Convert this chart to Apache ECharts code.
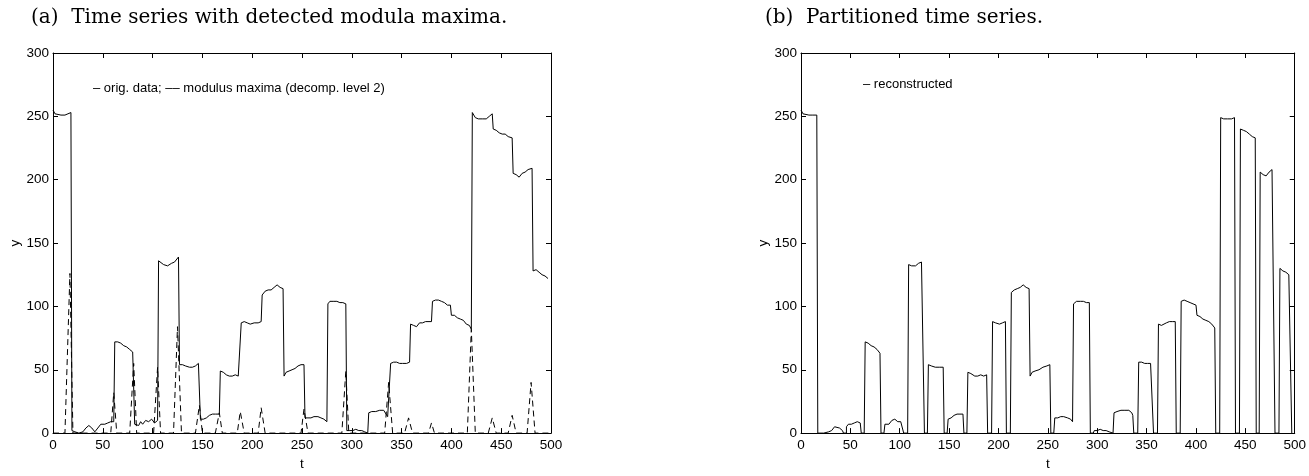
<!DOCTYPE html>
<html>
<head>
<meta charset="utf-8">
<script src="https://cdn.jsdelivr.net/npm/echarts@6/dist/echarts.min.js"></script>
<style>
html,body{margin:0;padding:0;background:#fff;}
#chart{width:1309px;height:476px;}
</style>
</head>
<body>
<div id="chart"></div>
<script>
// ---- data ----
const titleA = "(a)  Time series with detected modula maxima.";
const titleB = "(b)  Partitioned time series.";
const legendA = "\u2013 orig. data; \u2013\u2013 modulus maxima (decomp. level 2)";
const legendB = "\u2013 reconstructed";
const xTicks = [0, 50, 100, 150, 200, 250, 300, 350, 400, 450, 500];
const yTicks = [0, 50, 100, 150, 200, 250, 300];

// original time series [t, y]
const origData = [
[0,255],[2,252],[4,251],[8,251],[12,251],[15,252],[18,253],[19,2],[22,1],[26,0],[30,1],[33,4],[36,6],[39,4],[42,1],[45,4],[48,7],[52,7],[55,8],[58,9],[60,10],[61,9],
[62,72],[65,72],[68,71],[71,69],[74,68],[77,66],[80,64],[81,63],
[82,7],[84,8],[86,6],[88,9],[90,7],[93,10],[96,9],[99,11],[102,8],[104,9],[105,10],
[106,136],[108,135],[111,133],[115,132],[119,134],[122,135],[124,135],[126,139],
[127,54],[130,54],[133,53],[137,52],[140,52],[143,53],[146,55],[147,55],
[148,11],[151,11],[154,12],[157,14],[160,15],[163,15],[167,15],
[168,49],[171,48],[174,46],[177,45],[180,45],[183,46],[186,45],[188,46],
[189,87],[192,88],[195,87],[198,86],[202,87],[206,87],[209,88],
[210,109],[213,112],[216,113],[219,113],[222,115],[225,117],[228,115],[230,115],[231,114],
[232,45],[234,48],[237,49],[240,50],[243,51],[246,53],[249,54],[252,54],
[253,12],[256,12],[259,12],[262,13],[266,13],[269,12],[272,11],[275,9],
[276,102],[278,104],[282,104],[285,104],[288,103],[291,103],[294,102],
[295,2],[298,2],[301,2],[304,3],[307,2],[310,2],[313,1],[316,0],
[317,16],[320,17],[324,17],[328,18],[332,18],[334,17],[336,13],[338,12],
[339,55],[342,56],[345,56],[348,55],[351,55],[355,55],[358,56],
[359,86],[362,85],[365,84],[368,87],[371,87],[374,88],[380,88],
[381,104],[384,105],[387,105],[390,104],[393,103],[396,101],[399,101],
[400,93],[403,93],[406,91],[409,90],[412,89],[415,86],[418,85],[420,82],
[421,253],[424,249],[427,248],[431,248],[435,248],[438,250],[441,252],
[442,240],[445,239],[448,237],[451,236],[454,236],[457,234],[461,233],
[462,205],[465,204],[468,202],[471,205],[474,206],[477,208],[481,209],
[482,128],[485,129],[488,127],[491,125],[494,124],[497,122]
];

// modulus maxima (decomp. level 2) [t, y]
const maximaData = [
[0,0],[12,0],[17,126],[20,0],
[58,0],[61,32],[64,0],
[77,0],[81,55],[84,0],
[101,0],[105,52],[108,0],
[121,0],[125,84],[129,0],
[143,0],[147,22],[150,0],
[163,0],[167,16],[170,0],
[185,0],[188,17],[192,0],
[206,0],[209,20],[213,0],
[249,0],[252,19],[256,0],
[290,0],[294,49],[297,0],
[333,0],[337,40],[341,0],
[353,0],[357,12],[361,0],
[377,0],[380,8],[383,0],
[416,0],[420,82],[424,0],
[437,0],[441,12],[445,0],
[457,0],[461,14],[465,0],
[476,0],[480,40],[484,0],[500,0]
];

// reconstructed (partitioned) series [t, y]
const reconData = [
[0,255],[2,252],[4,251],[8,251],[12,251],[16,251],[17,0],[23,0],
[24,1],[28,1],[31,2],[34,5],[36,6],[39,4],[42,2],[43,0],[46,0],
[46,5],[48,7],[51,7],[54,8],[57,9],[59,10],[60,8],[61,0],[64,0],
[65,72],[68,71],[71,69],[74,68],[77,66],[80,63],[81,0],[84,0],
[85,7],[87,8],[89,7],[92,10],[95,11],[98,9],[101,9],[103,10],[104,0],[108,0],
[109,133],[112,132],[116,132],[119,134],[122,135],[124,135],[125,0],[128,0],
[129,54],[132,53],[136,52],[140,52],[144,52],[145,0],[148,0],
[149,11],[152,12],[155,14],[158,15],[161,15],[164,15],[165,0],[168,0],
[169,48],[172,47],[176,45],[179,45],[182,46],[185,45],[188,46],[189,0],[193,0],
[194,88],[197,87],[201,86],[204,87],[207,88],[208,0],[212,0],
[213,111],[216,113],[219,114],[222,115],[225,117],[228,115],[231,114],
[232,45],[234,48],[237,49],[241,50],[245,52],[249,53],[252,54],[253,0],[256,0],
[257,12],[260,12],[263,13],[266,13],[270,12],[273,11],[275,9],
[276,102],[279,104],[283,104],[286,104],[289,103],[292,103],[293,0],[296,0],
[297,2],[300,2],[303,3],[306,2],[309,2],[312,1],[314,0],[316,0],
[317,16],[320,17],[324,18],[328,18],[332,18],[335,16],[336,14],[337,0],[341,0],
[342,56],[345,56],[348,55],[351,55],[354,55],[356,56],[357,0],[361,0],
[362,86],[365,85],[367,84],[370,87],[373,88],[376,88],[379,88],[380,0],[384,0],
[385,104],[388,105],[391,104],[394,103],[397,102],[400,101],
[401,93],[404,92],[407,90],[410,89],[413,88],[416,86],[419,83],[420,0],[424,0],
[425,249],[428,248],[432,248],[436,248],[439,249],[440,0],[444,0],
[445,240],[448,239],[451,238],[454,236],[457,234],[460,233],[461,0],[464,0],
[465,206],[468,204],[471,203],[474,206],[477,208],[479,209],[480,0],[484,0],
[485,130],[488,128],[491,127],[494,125],[496,124],[497,0]
];

// ---- chart ----
const chart = echarts.init(document.getElementById('chart'), null, {renderer: 'canvas'});
const black = '#000';
const tickFont = {color: black, fontSize: 13.5, fontFamily: 'Liberation Sans, Arial, sans-serif'};

function xAxes(gridIndex) {
  return [
    {
      type: 'value', gridIndex, position: 'bottom', min: 0, max: 500, interval: 50,
      axisLine: {show: true, onZero: false, lineStyle: {color: black, width: 1}},
      axisTick: {show: true, inside: true, length: 5, lineStyle: {color: black}},
      axisLabel: Object.assign({margin: 5, formatter: v => xTicks.includes(v) ? String(v) : ''}, tickFont),
      splitLine: {show: false},
      name: 't', nameLocation: 'middle', nameGap: 21,
      nameTextStyle: tickFont
    },
    {
      type: 'value', gridIndex, position: 'top', min: 0, max: 500, interval: 50,
      axisLine: {show: true, onZero: false, lineStyle: {color: black, width: 1}},
      axisTick: {show: true, inside: true, length: 5, lineStyle: {color: black}},
      axisLabel: {show: false}, splitLine: {show: false}
    }
  ];
}
function yAxes(gridIndex) {
  return [
    {
      type: 'value', gridIndex, position: 'left', min: 0, max: 300, interval: 50,
      axisLine: {show: true, onZero: false, lineStyle: {color: black, width: 1}},
      axisTick: {show: true, inside: true, length: 5, lineStyle: {color: black}},
      axisLabel: Object.assign({margin: 4, formatter: v => yTicks.includes(v) ? String(v) : ''}, tickFont),
      splitLine: {show: false},
      name: 'y', nameLocation: 'middle', nameGap: 24, nameRotate: 90,
      nameTextStyle: tickFont
    },
    {
      type: 'value', gridIndex, position: 'right', min: 0, max: 300, interval: 50,
      axisLine: {show: true, onZero: false, lineStyle: {color: black, width: 1}},
      axisTick: {show: true, inside: true, length: 5, lineStyle: {color: black}},
      axisLabel: {show: false}, splitLine: {show: false}
    }
  ];
}

const titleStyle = {color: black, fontSize: 20, fontWeight: 'normal', fontFamily: 'DejaVu Serif, serif'};
const legendStyle = {color: black, fontSize: 13, fontWeight: 'normal', fontFamily: 'Liberation Sans, Arial, sans-serif'};

const option = {
  animation: false,
  backgroundColor: '#fff',
  title: [
    {text: titleA, left: 31, top: 8, padding: 0, textStyle: titleStyle},
    {text: titleB, left: 765, top: 8, padding: 0, textStyle: titleStyle},
    {text: legendA, left: 93, top: 82, padding: 0, textStyle: legendStyle},
    {text: legendB, left: 863, top: 78, padding: 0, textStyle: legendStyle}
  ],
  grid: [
    {left: 53, top: 53, width: 498, height: 393},
    {left: 801, top: 53, width: 499, height: 393}
  ],
  xAxis: [...xAxes(0), ...xAxes(1)],
  yAxis: [...yAxes(0), ...yAxes(1)],
  series: [
    {type: 'line', xAxisIndex: 0, yAxisIndex: 0, data: origData, showSymbol: false,
     lineStyle: {color: black, width: 1}, z: 3},
    {type: 'line', xAxisIndex: 0, yAxisIndex: 0, data: maximaData, showSymbol: false,
     lineStyle: {color: black, width: 1, type: [6, 4]}, z: 2},
    {type: 'line', xAxisIndex: 2, yAxisIndex: 2, data: reconData, showSymbol: false,
     lineStyle: {color: black, width: 1}, z: 3}
  ]
};
chart.setOption(option);
</script>
</body>
</html>
